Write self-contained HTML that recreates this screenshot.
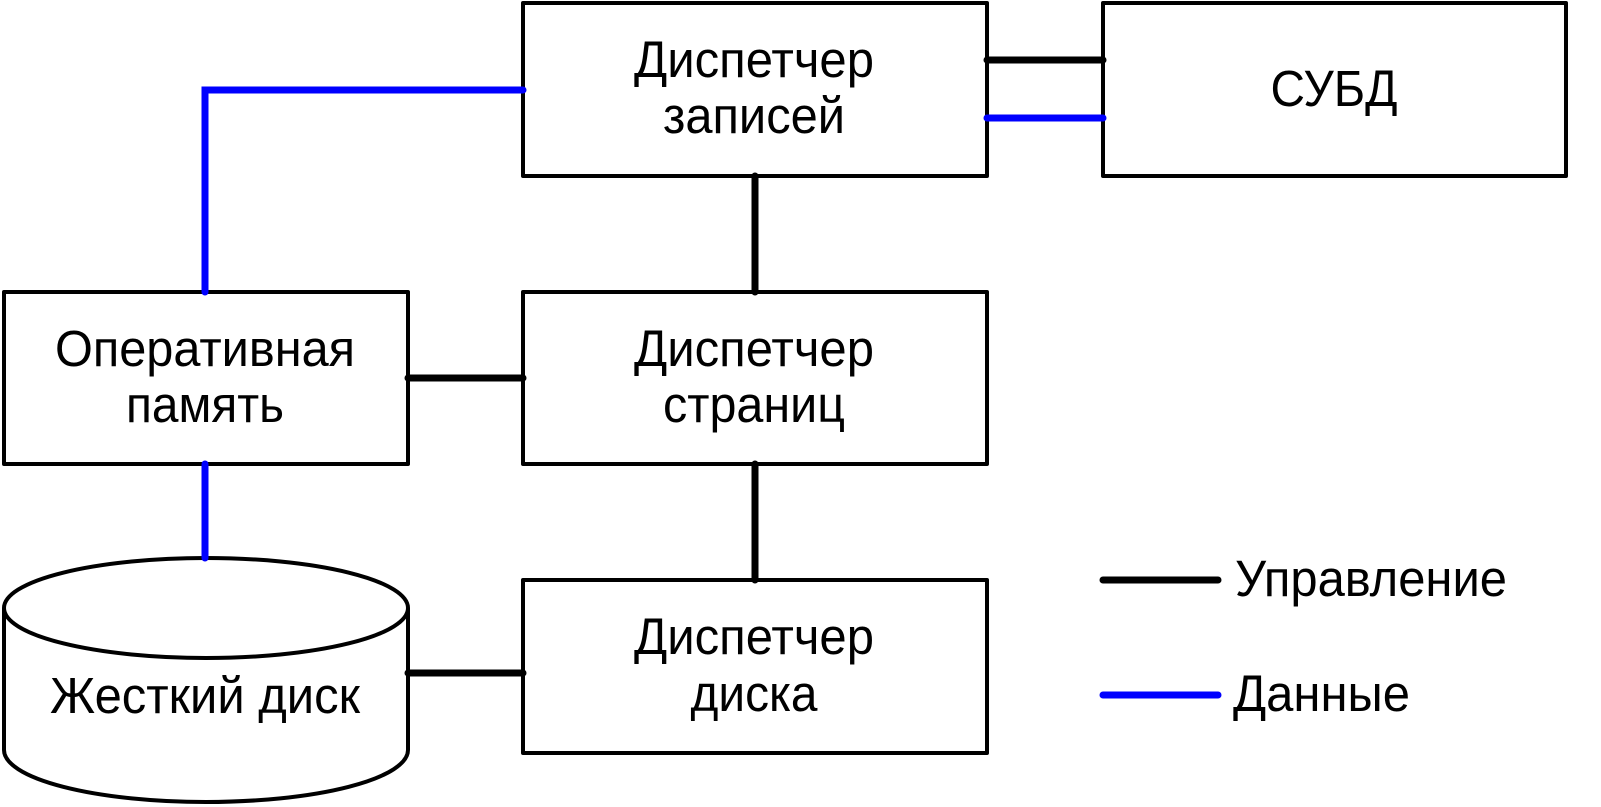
<!DOCTYPE html>
<html><head><meta charset="utf-8"><style>html,body{margin:0;padding:0;background:#fff}svg{display:block}</style></head>
<body>
<svg width="1601" height="807" viewBox="0 0 1601 807" xmlns="http://www.w3.org/2000/svg" font-family="Liberation Sans, Arial, sans-serif" font-size="51" fill="#000">
<g fill="none" stroke="#000" stroke-width="4" stroke-linejoin="round">
<rect x="523" y="3" width="464" height="173"/>
<rect x="1103" y="3" width="463" height="173"/>
<rect x="4" y="292" width="404" height="172"/>
<rect x="523" y="292" width="464" height="172"/>
<rect x="523" y="580" width="464" height="173"/>
<path d="M4,608 L4,750 A202,52 0 0 0 408,750 L408,608" fill="#fff"/>
<ellipse cx="206" cy="608" rx="202" ry="50" fill="#fff"/>
</g>
<g fill="none" stroke-width="7" stroke-linecap="round" stroke-linejoin="miter">
<path d="M205,292 L205,90 L523,90" stroke="#0000ff"/>
<path d="M987,118 L1103,118" stroke="#0000ff"/>
<path d="M205,464 L205,558" stroke="#0000ff"/>
<path d="M1103,695 L1218,695" stroke="#0000ff"/>
<path d="M987,60 L1103,60" stroke="#000"/>
<path d="M755,176 L755,292" stroke="#000"/>
<path d="M408,378 L523,378" stroke="#000"/>
<path d="M755,464 L755,580" stroke="#000"/>
<path d="M408,673 L523,673" stroke="#000"/>
<path d="M1103,580 L1218,580" stroke="#000"/>
</g>
<g text-anchor="middle">
<text x="754" y="77" textLength="240" lengthAdjust="spacingAndGlyphs">Диспетчер</text>
<text x="754" y="133" textLength="182" lengthAdjust="spacingAndGlyphs">записей</text>
<text x="1334" y="106" textLength="127" lengthAdjust="spacingAndGlyphs">СУБД</text>
<text x="205" y="366" textLength="300" lengthAdjust="spacingAndGlyphs">Оперативная</text>
<text x="205" y="422" textLength="158" lengthAdjust="spacingAndGlyphs">память</text>
<text x="754" y="366" textLength="240" lengthAdjust="spacingAndGlyphs">Диспетчер</text>
<text x="754" y="422" textLength="182" lengthAdjust="spacingAndGlyphs">страниц</text>
<text x="754" y="654" textLength="240" lengthAdjust="spacingAndGlyphs">Диспетчер</text>
<text x="754" y="711" textLength="127" lengthAdjust="spacingAndGlyphs">диска</text>
<text x="205" y="713" textLength="310" lengthAdjust="spacingAndGlyphs">Жесткий диск</text>
</g>
<text x="1235" y="596" textLength="272" lengthAdjust="spacingAndGlyphs">Управление</text>
<text x="1233" y="711" textLength="177" lengthAdjust="spacingAndGlyphs">Данные</text>
</svg>
</body></html>
